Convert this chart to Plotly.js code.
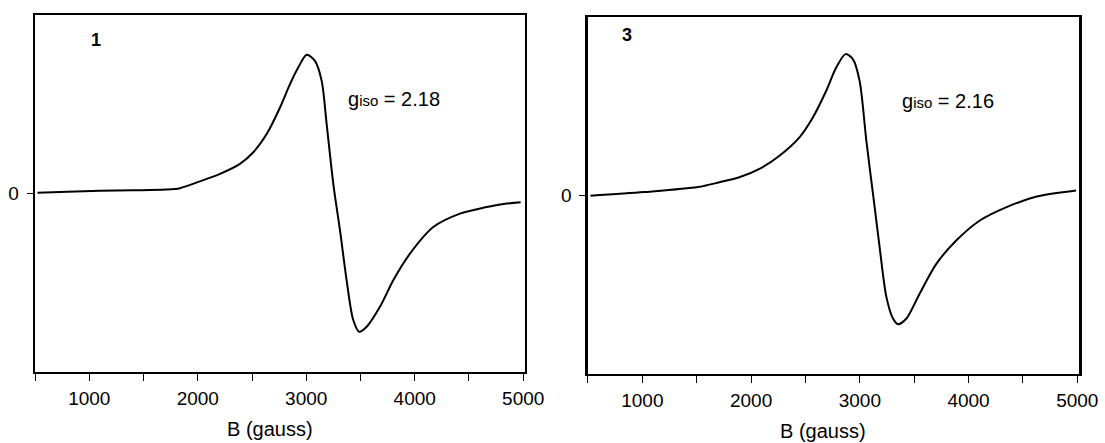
<!DOCTYPE html>
<html><head><meta charset="utf-8">
<script src="https://cdn.plot.ly/plotly-3.0.1.min.js"></script>
<style>html,body{margin:0;padding:0;background:#fff}#chart{width:1105px;height:443px}</style>
</head><body><div id="chart"></div>
<script>
// Sample 1 EPR spectrum (B in gauss, derivative intensity, arbitrary units)
const fieldA = [523, 800, 1100, 1400, 1700, 1836, 2020, 2205, 2389, 2512, 2635, 2758, 2850, 2926, 3004, 3080, 3142, 3188, 3250, 3311, 3372, 3433, 3488, 3557, 3679, 3802, 3956, 4171, 4417, 4663, 4785, 4976];
const signalA = [0.004, 0.010, 0.015, 0.018, 0.022, 0.030, 0.068, 0.110, 0.166, 0.231, 0.333, 0.482, 0.613, 0.706, 0.777, 0.743, 0.631, 0.389, 0.050, -0.207, -0.486, -0.709, -0.775, -0.747, -0.635, -0.486, -0.337, -0.188, -0.113, -0.076, -0.061, -0.049];
// Sample 3 EPR spectrum
const fieldB = [523, 1016, 1510, 1708, 1892, 2077, 2261, 2445, 2568, 2691, 2783, 2869, 2936, 2998, 3060, 3121, 3182, 3244, 3305, 3351, 3429, 3551, 3705, 3889, 4104, 4350, 4627, 4989];
const signalB = [-0.002, 0.019, 0.047, 0.074, 0.102, 0.149, 0.223, 0.326, 0.437, 0.587, 0.717, 0.792, 0.764, 0.642, 0.307, 0.010, -0.289, -0.568, -0.689, -0.721, -0.689, -0.549, -0.382, -0.251, -0.140, -0.065, -0.006, 0.028];
const labelA = "1", labelB = "3";
const gA = "2.18", gB = "2.16";
const axisTitle = "B (gauss)";
const xTickVals = [1000, 2000, 3000, 4000, 5000];
const yTickVals = [0];

const fam = "Arial, 'Liberation Sans', sans-serif";
const tickFont = {family: fam, size: 19, color: "#000"};
const titleFont = {family: fam, size: 20, color: "#000"};
const lineStyle = {color: "#000", width: 2, shape: "spline", smoothing: 0.8};

const traces = [
  {x: fieldA, y: signalA, type: "scatter", mode: "lines", line: lineStyle, xaxis: "x", yaxis: "y", hoverinfo: "skip"},
  {x: fieldB, y: signalB, type: "scatter", mode: "lines", line: lineStyle, xaxis: "x2", yaxis: "y2", hoverinfo: "skip"}
];

function xax(domain, anchor) {
  return {
    domain: domain, anchor: anchor, range: [500, 5016],
    showline: true, mirror: true, linewidth: 2.5, linecolor: "#000",
    showgrid: false, zeroline: false,
    tickmode: "array", tickvals: xTickVals, ticks: "outside", ticklen: 7, tickwidth: 1, tickcolor: "#000",
    minor: {dtick: 500, tick0: 0, ticks: "outside", ticklen: 7, tickwidth: 1, tickcolor: "#000", showgrid: false},
    tickfont: tickFont, ticklabelstandoff: 1
  };
}
function yax(domain, anchor) {
  return {
    domain: domain, anchor: anchor, range: [-1, 1],
    showline: true, mirror: true, linewidth: 2.5, linecolor: "#000",
    showgrid: false, zeroline: false,
    tickmode: "array", tickvals: yTickVals, ticktext: ["0"], ticks: "outside", ticklen: 6, tickwidth: 1, tickcolor: "#000",
    tickfont: tickFont, ticklabelstandoff: 4
  };
}

const gText = g => 'g<span style="font-size:15px">iso</span> = ' + g;

const layout = {
  width: 1105, height: 443,
  margin: {l: 0, r: 0, t: 0, b: 0},
  paper_bgcolor: "#fff", plot_bgcolor: "#fff",
  showlegend: false,
  font: tickFont,
  xaxis: xax([0.0317, 0.4751], "y"),
  yaxis: yax([0.1603, 0.9661], "x"),
  xaxis2: xax([0.5321, 0.9765], "y2"),
  yaxis2: yax([0.1558, 0.9616], "x2"),
  annotations: [
    {xref: "x", yref: "y", x: 1000, y: 0.86, text: "<b>" + labelA + "</b>", showarrow: false, xanchor: "left", font: {family: fam, size: 18, color: "#000"}},
    {xref: "x2", yref: "y2", x: 790, y: 0.90, text: "<b>" + labelB + "</b>", showarrow: false, xanchor: "left", font: {family: fam, size: 18, color: "#000"}},
    {xref: "x", yref: "y", x: 3370, y: 0.53, text: gText(gA), showarrow: false, xanchor: "left", font: titleFont},
    {xref: "x2", yref: "y2", x: 3370, y: 0.53, text: gText(gB), showarrow: false, xanchor: "left", font: titleFont},
    {xref: "paper", yref: "paper", x: 270 / 1105, y: 1 - 429 / 443, text: axisTitle, showarrow: false, xanchor: "center", yanchor: "middle", font: titleFont},
    {xref: "paper", yref: "paper", x: 823 / 1105, y: 1 - 431 / 443, text: axisTitle, showarrow: false, xanchor: "center", yanchor: "middle", font: titleFont}
  ]
};

Plotly.newPlot("chart", traces, layout, {staticPlot: true, displayModeBar: false});
</script></body></html>
